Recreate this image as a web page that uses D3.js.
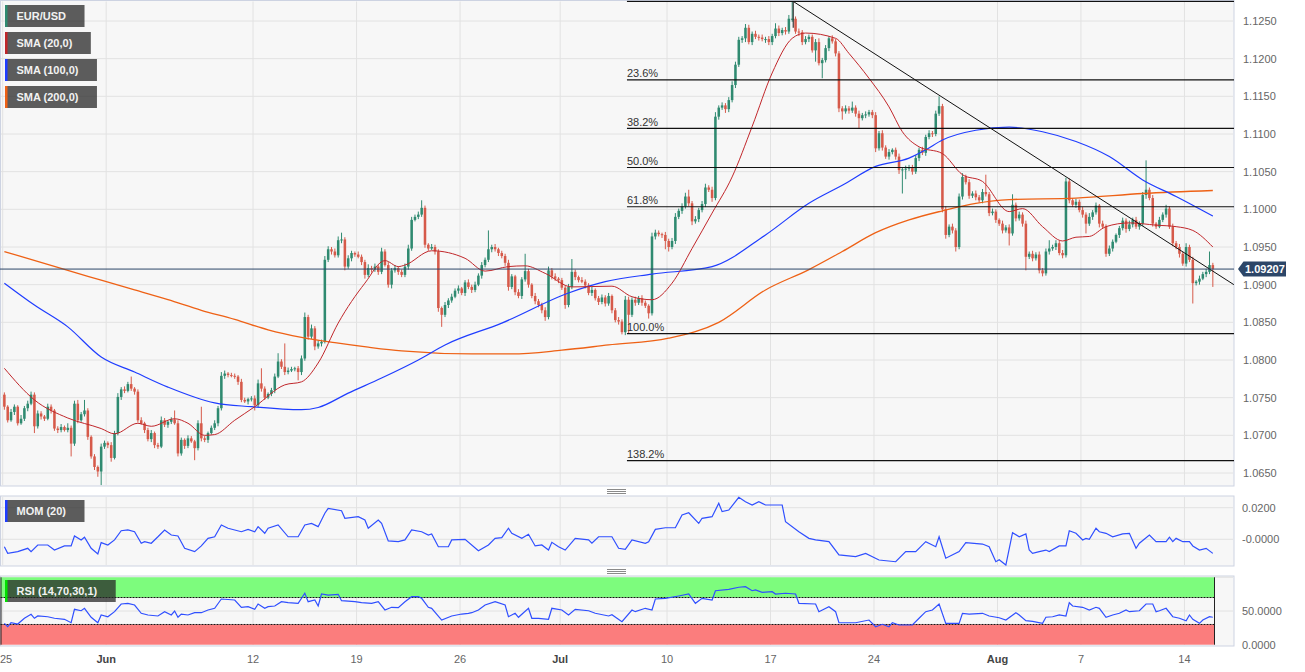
<!DOCTYPE html>
<html lang="en">
<head>
  <meta charset="UTF-8">
  <title>EUR/USD 4H</title>
  <script src="https://d3js.org/d3.v7.min.js"></script>
  <style>
    body { margin: 0; background: #fff; }
    svg text { font-family: "Liberation Sans", Arial, sans-serif; }
  </style>
</head>
<body>
  <svg id="chart" width="1305" height="672"></svg>
  <script>
    /***********************
     * data (prices in pips above 1.0000, 4H bars from 25 May)
     ***********************/
    const firstOpen = 754;
    const closes = [
      738,720,731,738,716,722,736,742,754,712, 729,725,722,738,733,709,707,711,707,710,
      689,742,720,728,733,698,672,658,652,685, 690,687,670,703,751,761,759,768,762,758,
      720,716,707,695,703,687,685,720,714,718, 721,716,676,694,686,696,692,683,716,696,
      694,703,710,716,736,779,782,780,779,778, 771,747,745,748,749,740,769,762,750,755,
      760,778,798,791,784,786,788,789,784,802, 857,831,842,818,822,824,933,947,944,939,
      959,960,924,935,942,940,937,930,913,922, 920,924,917,944,926,900,919,922,917,913,
      924,948,986,990,993,1002,953,948,950,944, 869,860,873,879,884,892,895,889,903,897,
      893,900,912,926,933,947,950,947,942,938, 929,897,911,890,885,907,918,900,885,878,
      873,866,857,919,911,908,906,896,873,897, 917,910,906,904,899,889,893,882,877,883,
      875,885,866,853,851,837,880,860,880,876, 882,876,872,862,964,969,967,966,958,950,
      958,990,998,1004,1017,1008,984,987,999,1007, 1029,1026,1015,1123,1135,1138,1133,1145,1165,1192,
      1225,1227,1241,1222,1233,1229,1228,1226,1226,1222, 1230,1240,1234,1238,1236,1253,1253,1236,1235,1222,
      1226,1229,1211,1222,1194,1198,1214,1227,1223,1207, 1134,1130,1134,1131,1135,1127,1121,1125,1126,1129,
      1125,1081,1101,1082,1070,1076,1079,1070,1052,1053, 1054,1056,1050,1068,1079,1075,1096,1101,1100,1127,
      1137,1000,966,977,972,950,1017,1043,1036,1018, 1021,1016,1012,1023,1020,995,997,986,981,972,
      976,968,1006,988,993,981,937,941,935,940, 919,915,944,948,950,955,942,939,1037,1012,
      1006,1010,999,993,981,990,996,1005,981,977, 941,948,957,966,975,985,974,980,986,977,
      981,1019,1026,1015,981,977,986,993,1001,977, 955,950,941,928,950,933,902,904,908,914,
      917,926,921
    ];
    const wickUp = [
      3,2,4,3,2,5,3,4,4,3, 4,3,2,4,3,2,3,4,2,6, 3,4,5,3,14,3,2,3,2,4, 3,2,4,3,5,3,4,3,10,2,
      3,4,2,3,4,2,3,5,3,2, 3,12,4,3,2,4,3,2,4,22, 3,2,3,4,3,5,4,2,3,3, 2,4,3,2,3,4,5,20,3,2,
      3,4,11,3,31,4,3,2,3,4, 6,3,5,3,4,3,5,4,3,4, 5,9,3,4,3,2,4,3,3,5, 3,4,2,5,3,4,3,4,2,3,
      4,5,4,3,4,10,3,2,4,3, 3,2,4,3,4,3,4,2,3,4, 3,4,3,4,3,25,3,4,2,3, 3,4,3,2,4,3,23,3,2,4,
      3,3,4,5,3,4,2,3,3,4, 17,3,2,4,3,3,4,2,3,4, 3,4,2,3,4,3,5,4,3,4, 3,4,3,2,5,4,3,2,4,3,
      4,5,3,4,5,9,3,4,3,4, 5,3,4,6,3,4,3,4,5,4, 4,3,5,4,3,4,3,4,3,4, 3,7,4,3,4,5,23,3,4,3,
      4,3,3,4,5,3,4,3,4,3, 3,3,4,3,8,3,4,3,4,3, 3,4,3,4,3,4,2,3,4,3, 4,3,3,4,3,4,3,4,3,4,
      13,3,4,3,4,3,4,5,3,4, 3,4,3,4,23,3,4,3,2,4, 3,4,14,3,4,3,4,3,4,3, 4,3,4,11,3,4,3,4,5,4,
      3,4,3,4,3,5,3,4,2,4, 3,4,3,2,3,4,3,5,3,4, 3,4,39,3,4,2,4,3,5,3, 4,3,4,3,5,3,4,2,4,3,
      4,18,3
    ];
    const wickDown = [
      4,3,2,4,3,2,3,4,2,9, 3,4,3,2,4,3,4,3,2,3, 17,3,4,2,3,4,3,4,7,18, 3,4,5,2,3,4,3,2,3,4,
      3,2,4,3,4,4,3,2,3,4, 3,2,4,3,4,3,2,16,3,4, 3,4,2,3,4,3,4,3,2,3, 4,3,2,4,3,7,3,4,3,2,
      3,4,2,3,4,3,2,3,11,4, 3,4,3,5,3,4,2,3,4,3, 3,4,5,3,4,3,2,4,5,3, 4,3,4,3,2,4,5,3,4,3,
      3,4,3,2,3,3,4,3,2,4, 5,16,3,4,3,2,4,3,4,3, 4,3,2,4,3,3,4,3,4,3, 4,5,3,4,3,4,3,4,3,4,
      3,4,5,3,4,3,4,3,5,3, 3,4,3,2,4,3,4,3,4,3, 4,3,4,3,4,3,4,25,3,4, 3,4,3,7,3,4,3,4,11,6,
      3,4,3,4,3,4,5,3,4,3, 4,3,5,3,4,3,5,4,3,4, 3,4,5,3,4,3,4,3,5,4, 4,3,4,3,4,3,4,3,5,4,
      3,4,3,15,3,20,3,4,3,4, 5,11,3,4,3,4,13,3,4,3, 4,5,3,4,3,4,3,4,5,31, 13,3,4,3,4,3,4,3,4,3,
      3,4,5,3,4,6,3,4,3,4, 3,4,3,4,3,4,3,4,3,4, 3,16,3,4,3,4,18,3,4,3, 4,4,3,4,3,4,3,4,3,4,
      3,4,3,4,13,3,4,3,5,3, 4,3,4,2,4,3,5,3,4,3, 4,3,5,3,4,3,2,3,4,3, 4,3,5,3,4,3,27,3,4,2,
      4,3,24
    ];

    // moving averages as [bar, pips]
    const sma20 = [[0,789],[9,747],[19,723],[29,709],[33,702],[40,716],[44,712],[51,722],[55,716],[60,700],
      [63,701],[69,720],[75,738],[84,767],[89,771],[94,796],[100,849],[108,902],[114,932],[118,924],
      [120,926],[128,945],[138,935],[144,918],[151,924],[156,925],[162,915],[170,897],[182,898],[188,884],
      [194,880],[200,902],[206,948],[212,995],[218,1043],[224,1110],[230,1181],[236,1227],[240,1234],
      [249,1227],[253,1207],[259,1174],[265,1136],[269,1103],[274,1083],[281,1074],[287,1046],[293,1037],
      [301,997],[305,1001],[311,977],[317,958],[321,963],[325,964],[330,977],[337,982],[345,979],[351,977],
      [356,972],[362,950]];
    const sma100 = [[0,902],[9,873],[19,844],[29,804],[39,784],[49,764],[63,743],[74,738],[89,734],[94,737],
      [103,756],[113,776],[124,800],[132,820],[149,849],[169,889],[180,904],[194,914],[212,924],[228,966],
      [241,1008],[251,1032],[261,1057],[271,1068],[276,1079],[281,1092],[291,1105],[301,1109],[311,1103],
      [321,1090],[331,1070],[341,1039],[351,1017],[362,991]];
    const sma200 = [[0,944],[19,919],[29,906],[39,893],[49,880],[59,866],[69,854],[79,840],[89,830],[99,823],
      [109,817],[119,812],[140,808],[152,808],[167,813],[181,820],[199,829],[214,850],[228,893],[241,920],
      [251,944],[261,969],[271,986],[281,998],[291,1008],[301,1013],[321,1015],[341,1021],[362,1025]];

    // indicators as [bar, value]
    const mom20 = [[0,-0.0047],[1,-0.0089],[4,-0.0078],[7,-0.0057],[8,-0.0078],[10,-0.0036],[13,-0.0036],[15,-0.0068],
      [18,-0.0042],[20,-0.0042],[21,0.0021],[23,-0.0004],[24,0.0013],[26,-0.0057],[28,-0.0093],[29,-0.0021],
      [31,-0.0036],[33,-0.0004],[35,0.0054],[37,0.0059],[39,0.0048],[41,-0.0025],[42,-0.0015],[44,-0.0025],
      [46,0.0016],[48,0.0059],[50,0.0027],[52,0.0021],[54,-0.0057],[57,-0.0078],[59,-0.0042],[61,0.0006],
      [63,0.0016],[65,0.0091],[67,0.0070],[71,0.0048],[73,0.0063],[75,0.0048],[76,0.0080],[78,0.0038],
      [79,0.0070],[82,0.0091],[85,0.0016],[88,0.0016],[90,0.0091],[92,0.0101],[94,0.0080],[96,0.0165],
      [97,0.0196],[101,0.0181],[102,0.0133],[106,0.0143],[108,0.0122],[109,0.0070],[112,0.0122],[113,0.0101],
      [115,-0.0010],[118,-0.0015],[120,-0.0004],[122,0.0059],[125,0.0048],[127,0.0027],[128,0.0034],
      [130,-0.0047],[133,-0.0047],[134,-0.0004],[138,0.0000],[142,-0.0072],[145,-0.0036],[147,0.0006],
      [149,0.0010],[151,0.0070],[152,0.0038],[155,0.0006],[157,0.0032],[159,-0.0042],[161,-0.0036],
      [163,-0.0068],[164,-0.0019],[166,-0.0047],[168,-0.0068],[171,0.0006],[175,-0.0004],[176,-0.0025],
      [178,0.0016],[182,0.0016],[184,-0.0057],[186,-0.0063],[188,-0.0004],[192,-0.0025],[193,-0.0015],
      [195,0.0063],[198,0.0073],[201,0.0073],[203,0.0154],[205,0.0168],[208,0.0101],[209,0.0133],
      [212,0.0143],[214,0.0228],[215,0.0175],[217,0.0185],[220,0.0266],[222,0.0238],[224,0.0217],
      [226,0.0238],[228,0.0217],[233,0.0217],[234,0.0111],[238,0.0048],[241,0.0006],[243,-0.0004],
      [247,-0.0015],[250,-0.0099],[255,-0.0110],[258,-0.0089],[262,-0.0131],[267,-0.0142],[270,-0.0078],
      [273,-0.0078],[276,-0.0015],[279,-0.0047],[280,0.0016],[282,-0.0120],[286,-0.0078],[288,-0.0021],
      [293,-0.0030],[295,-0.0047],[297,-0.0142],[298,-0.0130],[300,-0.0163],[302,0.0042],[304,0.0016],
      [306,0.0034],[307,-0.0068],[308,-0.0089],[310,-0.0078],[312,-0.0068],[313,-0.0078],[316,-0.0042],
      [318,-0.0042],[319,0.0054],[321,0.0038],[323,-0.0004],[324,0.0006],[325,0.0000],[327,0.0070],
      [328,0.0048],[330,0.0038],[332,0.0016],[335,0.0034],[337,0.0038],[339,-0.0057],[340,-0.0025],
      [343,0.0027],[345,-0.0015],[348,-0.0015],[349,0.0013],[350,-0.0015],[351,0.0006],[353,-0.0015],
      [355,-0.0015],[356,-0.0042],[358,-0.0068],[360,-0.0057],[362,-0.0089]];
    const rsi14 = [[0,31.7],[1,26.7],[2,32.6],[4,30.7],[6,39.2],[8,45.1],[9,39.2],[10,42.6],[13,41.5],[15,39.2],
      [18,37.7],[20,32.6],[21,52.5],[23,50.4],[24,54.0],[26,40.7],[28,32.6],[29,44.1],[31,41.5],[33,49.0],
      [35,60.4],[37,61.4],[39,58.9],[41,46.6],[43,44.1],[46,42.6],[48,49.0],[50,44.1],[51,50.0],[52,40.7],
      [53,45.5],[55,44.1],[57,47.5],[59,47.5],[61,51.5],[63,54.0],[65,67.8],[69,66.3],[71,55.5],[73,56.4],
      [75,52.5],[76,60.4],[78,54.0],[79,56.4],[81,57.4],[83,63.8],[85,62.3],[88,61.4],[90,76.3],[91,63.8],
      [93,66.3],[94,57.4],[95,75.2],[97,73.7],[100,74.8],[101,65.3],[105,63.8],[107,62.3],[110,61.4],
      [112,63.8],[114,51.5],[116,55.5],[118,55.0],[120,63.8],[122,71.2],[124,71.2],[125,68.8],[127,55.5],
      [128,54.0],[131,36.6],[134,42.6],[137,45.5],[139,46.6],[140,47.5],[142,51.5],[144,58.9],[147,63.8],
      [150,58.9],[151,41.5],[153,46.6],[154,40.7],[157,54.0],[158,39.2],[160,39.2],[163,37.7],[164,54.0],
      [167,51.5],[169,44.1],[171,52.5],[175,50.4],[177,46.6],[181,42.6],[182,44.5],[185,34.1],[188,51.5],
      [189,49.0],[192,54.0],[194,51.5],[195,67.8],[198,68.8],[202,72.3],[205,75.2],[207,61.4],[209,68.8],
      [212,66.3],[213,80.1],[217,82.2],[220,85.2],[222,86.1],[224,80.1],[225,81.2],[227,77.7],[230,78.6],
      [231,75.2],[234,76.3],[237,75.2],[238,61.4],[243,60.4],[244,49.0],[247,56.4],[249,49.0],[250,32.6],
      [255,32.6],[259,36.6],[261,26.7],[263,30.3],[265,26.7],[266,32.6],[268,29.2],[272,29.2],[274,39.2],
      [276,49.0],[278,51.5],[280,60.4],[282,31.7],[286,31.7],[287,46.6],[289,45.5],[293,46.6],[295,42.6],
      [298,40.0],[300,36.6],[303,47.5],[304,44.1],[306,35.6],[308,34.7],[311,31.7],[312,40.7],[314,41.5],
      [316,44.1],[318,42.6],[319,62.3],[320,57.4],[323,55.5],[325,51.5],[327,55.5],[328,54.0],[330,40.7],
      [332,44.1],[334,46.6],[336,51.5],[337,49.0],[340,50.4],[342,60.4],[344,60.4],[345,49.0],[346,50.4],
      [348,54.0],[350,41.5],[352,39.2],[354,35.6],[355,44.1],[356,37.7],[358,31.7],[359,36.6],[361,41.5],
      [362,40.7]];

    const priceTicks = [1.0650,1.0700,1.0750,1.0800,1.0850,1.0900,1.0950,1.1000,1.1050,1.1100,1.1150,1.1200,1.1250];
    const momTicks = [0.02, 0];
    const momTickLabels = ["0.0200", "-0.0000"];
    const rsiTicks = [50, 0];
    const rsiTickLabels = ["50.0000", "0.0000"];
    const dateTicks = ["2023-05-25","2023-06-01","2023-06-12","2023-06-19","2023-06-26","2023-07-02",
                       "2023-07-10","2023-07-17","2023-07-24","2023-08-01","2023-08-07","2023-08-14"];
    const dateTickLabels = ["25","Jun","12","19","26","Jul","10","17","24","Aug","7","14"];

    // drawings (the 0% level carries no visible label)
    const fibLevels = [0, 0.236, 0.382, 0.5, 0.618, 1, 1.382];
    const fibLabels = ["","23.6%","38.2%","50.0%","61.8%","100.0%","138.2%"];
    const fibHigh = 1276, fibLow = 835, fibStartBar = 187;
    const trendLine = [[236.8, 1276], [368.8, 900]];
    const lastPrice = 1.09207;

    const legendItems = [
      { label: "EUR/USD", color: "#2f8a70" },
      { label: "SMA (20,0)", color: "#c0262a" },
      { label: "SMA (100,0)", color: "#1f3dff" },
      { label: "SMA (200,0)", color: "#ee6115" }
    ];

    /***********************
     * layout and scales
     ***********************/
    const plotRight = 1234;
    const mainP = { top: 0.5, bottom: 486 };
    const momP = { top: 496, bottom: 566 };
    const rsiP = { top: 576, bottom: 646 };
    const N = closes.length;

    const svg = d3.select("#chart");
    const pip = p => 1 + p / 10000;

    const x = d3.scaleLinear().domain([0, N]).range([2.7, 1214.5]);
    const bw = x(1) - x(0);
    const y = d3.scaleLinear().domain([1.0650, 1.1250]).range([473, 21]);
    const yMom = d3.scaleLinear().domain([0, 0.02]).range([539.3, 507.7]);
    const yRsi = d3.scaleLinear().domain([0, 100]).range([644.7, 577.3]);

    // trading calendar: sunday has one bar, weekdays six
    const barDays = [];
    for (let d = new Date(Date.UTC(2023, 4, 25)); barDays.length < N; d.setUTCDate(d.getUTCDate() + 1)) {
      const wd = d.getUTCDay();
      const n = wd === 6 ? 0 : (wd === 0 ? 1 : 6);
      for (let k = 0; k < n && barDays.length < N; k++) barDays.push(d.toISOString().slice(0, 10));
    }
    const tickX = dateTicks.map(t => x(barDays.indexOf(t)));

    const defs = svg.append("defs");
    [["clipMain", mainP], ["clipMom", momP], ["clipRsi", rsiP]].forEach(([id, p]) => {
      defs.append("clipPath").attr("id", id).append("rect")
        .attr("x", 0).attr("y", p.top).attr("width", plotRight).attr("height", p.bottom - p.top);
    });

    /***********************
     * panel backgrounds and grid
     ***********************/
    [mainP, momP, rsiP].forEach(p => {
      svg.append("rect").attr("x", 0.5).attr("y", p.top).attr("width", plotRight - 0.5)
        .attr("height", p.bottom - p.top).attr("fill", "#f7f7f7").attr("stroke", "#cdd3e2");
      svg.append("g").selectAll("line").data(tickX).join("line")
        .attr("x1", d => d).attr("x2", d => d).attr("y1", p.top + 1).attr("y2", p.bottom - 1)
        .attr("stroke", "#e2e2e2");
    });

    svg.append("g").selectAll("line").data(priceTicks).join("line")
      .attr("x1", 1).attr("x2", plotRight - 1).attr("y1", d => y(d)).attr("y2", d => y(d))
      .attr("stroke", "#e2e2e2");
    svg.append("g").selectAll("line").data(momTicks).join("line")
      .attr("x1", 1).attr("x2", plotRight - 1).attr("y1", d => yMom(d)).attr("y2", d => yMom(d))
      .attr("stroke", "#e2e2e2");
    svg.append("g").selectAll("line").data([100, 50]).join("line")
      .attr("x1", 1).attr("x2", plotRight - 1).attr("y1", d => yRsi(d)).attr("y2", d => yRsi(d))
      .attr("stroke", "#e2e2e2");

    // panel splitters
    [489.5, 569.5].forEach(sy => {
      svg.append("g").selectAll("line").data([0, 2, 4]).join("line")
        .attr("x1", 607).attr("x2", 626).attr("y1", d => sy + d).attr("y2", d => sy + d)
        .attr("stroke", "#8a8a8a");
    });

    /***********************
     * main panel: candles, averages, drawings
     ***********************/
    const gMain = svg.append("g").attr("clip-path", "url(#clipMain)");

    const candles = closes.map((c, i) => {
      const o = i ? closes[i - 1] : firstOpen;
      return { i, o, c, h: Math.max(o, c) + wickUp[i], l: Math.min(o, c) - wickDown[i] };
    });
    const candleColor = d => d.c >= d.o ? "#2f8a70" : "#d65a4a";

    gMain.append("g").selectAll("line").data(candles).join("line")
      .attr("x1", d => x(d.i + 0.5)).attr("x2", d => x(d.i + 0.5))
      .attr("y1", d => y(pip(d.h))).attr("y2", d => y(pip(d.l)))
      .attr("stroke", candleColor).attr("stroke-width", 1);
    gMain.append("g").selectAll("rect").data(candles).join("rect")
      .attr("x", d => x(d.i) + 0.4).attr("width", bw - 0.8)
      .attr("y", d => y(pip(Math.max(d.o, d.c))))
      .attr("height", d => Math.max(1, y(pip(Math.min(d.o, d.c))) - y(pip(Math.max(d.o, d.c)))))
      .attr("fill", candleColor);

    const smaLine = d3.line().x(d => x(d[0] + 0.5)).y(d => y(pip(d[1]))).curve(d3.curveMonotoneX);
    [[sma200, "#ee6115", 1.3], [sma100, "#1f3dff", 1.2], [sma20, "#c0262a", 1]].forEach(([data, color, w]) => {
      gMain.append("path").datum(data).attr("d", smaLine)
        .attr("fill", "none").attr("stroke", color).attr("stroke-width", w);
    });

    // fibonacci retracement
    const fibX = x(fibStartBar);
    const fibG = gMain.append("g");
    fibLevels.forEach((lv, k) => {
      const fy = y(pip(fibHigh - lv * (fibHigh - fibLow)));
      fibG.append("line").attr("x1", fibX).attr("x2", plotRight).attr("y1", fy).attr("y2", fy)
        .attr("stroke", "#111").attr("stroke-width", 1.2);
      if (fibLabels[k]) {
        fibG.append("text").attr("x", fibX).attr("y", fy - 2.5).text(fibLabels[k])
          .attr("font-size", 11).attr("fill", "#333");
      }
    });

    // trend line and its anchor
    gMain.append("line")
      .attr("x1", x(trendLine[0][0])).attr("y1", y(pip(trendLine[0][1])))
      .attr("x2", x(trendLine[1][0])).attr("y2", y(pip(trendLine[1][1])))
      .attr("stroke", "#111").attr("stroke-width", 1);
    gMain.append("line")
      .attr("x1", x(trendLine[0][0])).attr("x2", x(trendLine[0][0]))
      .attr("y1", y(pip(trendLine[0][1]))).attr("y2", y(pip(1241)))
      .attr("stroke", "#111").attr("stroke-width", 1);

    // last price line
    gMain.append("line").attr("x1", 0).attr("x2", plotRight)
      .attr("y1", y(lastPrice)).attr("y2", y(lastPrice))
      .attr("stroke", "#2c4668").attr("stroke-width", 1);

    /***********************
     * momentum and rsi panels
     ***********************/
    const gMom = svg.append("g").attr("clip-path", "url(#clipMom)");
    gMom.append("path").datum(mom20)
      .attr("d", d3.line().x(d => x(d[0] + 0.5)).y(d => yMom(d[1])))
      .attr("fill", "none").attr("stroke", "#2f4fff").attr("stroke-width", 1.2);

    const gRsi = svg.append("g").attr("clip-path", "url(#clipRsi)");
    const bandX0 = 0.5, bandX1 = x(N);
    gRsi.append("rect").attr("x", bandX0).attr("width", bandX1 - bandX0)
      .attr("y", yRsi(100)).attr("height", yRsi(70) - yRsi(100)).attr("fill", "#7dfc7d");
    gRsi.append("rect").attr("x", bandX0).attr("width", bandX1 - bandX0)
      .attr("y", yRsi(30)).attr("height", yRsi(0) - yRsi(30)).attr("fill", "#fb7d7d");
    [70, 30].forEach(v => {
      gRsi.append("line").attr("x1", bandX0).attr("x2", bandX1).attr("y1", yRsi(v)).attr("y2", yRsi(v))
        .attr("stroke", "#111").attr("stroke-dasharray", "2,1");
    });
    [bandX0 + 0.5, bandX1].forEach(bx => {
      gRsi.append("line").attr("x1", bx).attr("x2", bx).attr("y1", yRsi(100)).attr("y2", yRsi(0))
        .attr("stroke", "#222");
    });
    gRsi.append("path").datum(rsi14)
      .attr("d", d3.line().x(d => x(d[0] + 0.5)).y(d => yRsi(d[1])))
      .attr("fill", "none").attr("stroke", "#2f4fff").attr("stroke-width", 1.2);

    /***********************
     * legends
     ***********************/
    function legendBox(bx, by, label, color) {
      const g = svg.append("g");
      const r = g.append("rect").attr("x", bx).attr("y", by).attr("height", 22)
        .attr("fill", "rgba(40,40,40,0.75)");
      g.append("rect").attr("x", bx).attr("y", by).attr("width", 2.5).attr("height", 22).attr("fill", color);
      const t = g.append("text").attr("x", bx + 11.5).attr("y", by + 15).text(label)
        .attr("font-size", 11).attr("font-weight", "bold").attr("fill", "#f2f2f2");
      r.attr("width", t.node().getComputedTextLength() + 30);
    }
    legendItems.forEach((d, k) => legendBox(5, 5 + k * 27, d.label, d.color));
    legendBox(5, 500, "MOM (20)", "#1f3dff");
    legendBox(5, 580, "RSI (14,70,30,1)", "#00e000");

    /***********************
     * axes labels
     ***********************/
    const axisText = (sel) => sel.attr("font-size", 11).attr("fill", "#666");
    svg.append("g").selectAll("text").data(priceTicks).join("text")
      .attr("x", 1243).attr("y", d => y(d)).attr("dy", "0.35em").text(d => d.toFixed(4)).call(axisText);
    svg.append("g").selectAll("text").data(momTicks).join("text")
      .attr("x", 1242).attr("y", d => yMom(d)).attr("dy", "0.35em").text((d, k) => momTickLabels[k]).call(axisText);
    svg.append("g").selectAll("text").data(rsiTicks).join("text")
      .attr("x", 1242).attr("y", d => yRsi(d)).attr("dy", "0.35em").text((d, k) => rsiTickLabels[k]).call(axisText);

    dateTickLabels.forEach((lab, k) => {
      const isMonth = isNaN(+lab);
      const t = svg.append("text").attr("y", 663).text(lab)
        .attr("font-size", 11).attr("fill", isMonth ? "#444" : "#666")
        .attr("font-weight", isMonth ? "bold" : "normal");
      const tw = t.node().getComputedTextLength();
      t.attr("x", Math.max(0, tickX[k] - tw / 2));
    });

    // last price tag
    const ly = y(lastPrice);
    svg.append("path")
      .attr("d", `M1238,${ly} L1243.5,${ly - 7.5} L1286,${ly - 7.5} L1286,${ly + 7.5} L1243.5,${ly + 7.5} Z`)
      .attr("fill", "#2c4668");
    svg.append("text").attr("x", 1245).attr("y", ly).attr("dy", "0.36em").text(lastPrice.toFixed(5))
      .attr("font-size", 11).attr("font-weight", "bold").attr("fill", "#fff");
  </script>
</body>
</html>
